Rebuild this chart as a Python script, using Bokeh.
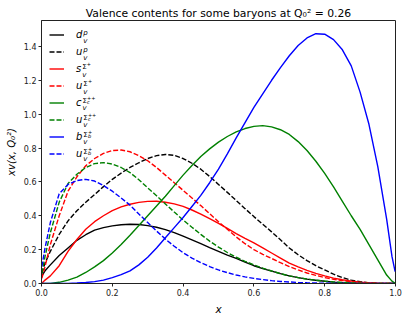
from bokeh.plotting import figure
from bokeh.models import Range1d, Label, Legend, LegendItem, PrintfTickFormatter, FixedTicker, Title
from bokeh.embed import file_html
from bokeh.resources import INLINE

# ---------------- data ----------------
x_vals = [0.001, 0.01, 0.025, 0.05, 0.075, 0.1, 0.125, 0.15, 0.175, 0.2, 0.225, 0.25,
          0.275, 0.3, 0.325, 0.35, 0.375, 0.4, 0.425, 0.45, 0.475, 0.5, 0.525, 0.55,
          0.575, 0.6, 0.625, 0.65, 0.675, 0.7, 0.725, 0.75, 0.775, 0.8, 0.825, 0.85,
          0.875, 0.9, 0.925, 0.95, 0.975, 0.99, 0.999]

d_v_p = [0.045, 0.075, 0.11, 0.165, 0.21, 0.255, 0.288, 0.315, 0.33, 0.34, 0.347, 0.35,
         0.348, 0.342, 0.332, 0.318, 0.3, 0.28, 0.258, 0.235, 0.212, 0.19, 0.168, 0.148,
         0.126, 0.105, 0.088, 0.073, 0.058, 0.045, 0.035, 0.026, 0.019, 0.013, 0.008, 0.005,
         0.003, 0.0015, 0.0007, 0.0002, 0.00003, 0.0, 0.0]
u_v_p = [0.06, 0.12, 0.19, 0.29, 0.37, 0.43, 0.48, 0.525, 0.572, 0.615, 0.652, 0.685,
         0.713, 0.738, 0.755, 0.762, 0.757, 0.738, 0.71, 0.675, 0.632, 0.585, 0.538, 0.49,
         0.442, 0.395, 0.35, 0.305, 0.258, 0.21, 0.17, 0.135, 0.105, 0.08, 0.055, 0.035,
         0.02, 0.01, 0.004, 0.001, 0.0002, 0.0, 0.0]
s_v_sig = [0.002, 0.02, 0.045, 0.105, 0.19, 0.26, 0.32, 0.365, 0.40, 0.43, 0.452, 0.468,
           0.479, 0.485, 0.486, 0.48, 0.47, 0.455, 0.434, 0.41, 0.383, 0.355, 0.325, 0.295,
           0.267, 0.24, 0.21, 0.18, 0.15, 0.12, 0.098, 0.078, 0.06, 0.045, 0.032, 0.022,
           0.014, 0.008, 0.004, 0.0015, 0.0003, 0.0, 0.0]
u_v_sig = [0.03, 0.10, 0.23, 0.40, 0.545, 0.63, 0.695, 0.738, 0.768, 0.785, 0.788, 0.778,
           0.755, 0.725, 0.685, 0.64, 0.595, 0.55, 0.505, 0.46, 0.412, 0.365, 0.32, 0.275,
           0.235, 0.20, 0.172, 0.148, 0.123, 0.10, 0.08, 0.062, 0.048, 0.035, 0.025, 0.017,
           0.011, 0.006, 0.003, 0.001, 0.0002, 0.0, 0.0]
c_v_sigc = [0.0, 0.0, 0.001, 0.007, 0.02, 0.038, 0.065, 0.098, 0.135, 0.18, 0.23, 0.285,
            0.342, 0.40, 0.458, 0.515, 0.578, 0.64, 0.697, 0.75, 0.795, 0.835, 0.868, 0.895,
            0.915, 0.928, 0.932, 0.925, 0.908, 0.88, 0.838, 0.785, 0.722, 0.65, 0.57, 0.485,
            0.40, 0.32, 0.23, 0.14, 0.05, 0.014, 0.001]
u_v_sigc = [0.06, 0.16, 0.30, 0.48, 0.59, 0.645, 0.685, 0.708, 0.714, 0.705, 0.685, 0.655,
            0.613, 0.565, 0.518, 0.47, 0.422, 0.375, 0.332, 0.29, 0.25, 0.215, 0.183, 0.155,
            0.131, 0.11, 0.091, 0.074, 0.058, 0.045, 0.035, 0.026, 0.019, 0.014, 0.009, 0.006,
            0.0035, 0.002, 0.0008, 0.0003, 0.00005, 0.0, 0.0]
b_v_sigb = [0.0, 0.0, 0.0, 0.0005, 0.001, 0.003, 0.006, 0.011, 0.02, 0.035, 0.052, 0.075,
            0.11, 0.155, 0.21, 0.27, 0.33, 0.39, 0.455, 0.52, 0.595, 0.675, 0.765, 0.86,
            0.95, 1.04, 1.12, 1.20, 1.275, 1.345, 1.405, 1.45, 1.475, 1.472, 1.44, 1.38,
            1.285, 1.13, 0.94, 0.69, 0.38, 0.16, 0.07]
u_v_sigb = [0.10, 0.21, 0.36, 0.53, 0.585, 0.608, 0.615, 0.605, 0.578, 0.545, 0.505, 0.463,
            0.41, 0.36, 0.31, 0.262, 0.22, 0.182, 0.15, 0.123, 0.1, 0.08, 0.064, 0.05,
            0.039, 0.03, 0.023, 0.017, 0.012, 0.009, 0.006, 0.004, 0.0028, 0.0018, 0.001, 0.0006,
            0.0003, 0.0001, 0.0, 0.0, 0.0, 0.0, 0.0]

series_values = [d_v_p, u_v_p, s_v_sig, u_v_sig, c_v_sigc, u_v_sigc, b_v_sigb, u_v_sigb]
series_colors = ["black", "black", "red", "red", "green", "green", "blue", "blue"]
series_dashed = [False, True, False, True, False, True, False, True]
# legend label pieces: main letter, superscript, tiny sub of superscript, tiny sup of superscript
legend_main = ["d", "u", "s", "u", "c", "u", "b", "u"]
legend_sup = ["p", "p", "Σ", "Σ", "Σ", "Σ", "Σ", "Σ"]
legend_supsub = ["", "", "", "", "c", "c", "b", "b"]
legend_supsup = ["", "", "+", "+", "++", "++", "+", "+"]

x_ticks = [0.0, 0.2, 0.4, 0.6, 0.8, 1.0]
y_ticks = [0.0, 0.2, 0.4, 0.6, 0.8, 1.0, 1.2, 1.4]
title_text = "Valence contents for some baryons at Q₀² = 0.26"
x_label = "x"
y_label = "xv(x, Q₀²)"

# ---------------- figure ----------------
FONT = "DejaVu Sans"
YMAX = 264.0 / 170.0

p = figure(width=407, height=317, output_backend="svg", toolbar_location=None,
           x_range=Range1d(0, 1), y_range=Range1d(0, YMAX), title=None,
           min_border_left=41, min_border_right=12, min_border_top=20, min_border_bottom=33)
p.add_layout(Title(text=title_text, align="center", text_font=FONT, text_font_size="10.8px",
                   text_font_style="normal", text_color="black", standoff=1), "above")

p.grid.visible = False
p.outline_line_color = "#222222"
p.outline_line_width = 1
p.background_fill_color = "white"
p.border_fill_color = "white"

for ax in (p.xaxis[0], p.yaxis[0]):
    ax.axis_line_color = "#222222"
    ax.major_tick_out = 3
    ax.major_tick_in = 0
    ax.minor_tick_line_color = None
    ax.major_tick_line_color = "#222222"
    ax.major_label_text_font = FONT
    ax.major_label_text_font_size = "8px"
    ax.major_label_text_color = "#222222"
    ax.major_label_standoff = 2
    ax.axis_label_text_font = FONT
    ax.axis_label_text_font_style = "italic"
    ax.axis_label_text_color = "black"
    ax.axis_label_standoff = 4
    ax.formatter = PrintfTickFormatter(format="%.1f")

p.xaxis.axis_label_text_font_size = "10.5px"
p.yaxis.axis_label_text_font_size = "10px"
p.xaxis.ticker = FixedTicker(ticks=x_ticks)
p.yaxis.ticker = FixedTicker(ticks=y_ticks)
p.xaxis.axis_label = x_label
p.yaxis.axis_label = y_label

renderers = []
for vals, col, dashed in zip(series_values, series_colors, series_dashed):
    r = p.line(x_vals, vals, line_color=col, line_width=1.4,
               line_dash="5 2" if dashed else "solid")
    renderers.append(r)

items = [LegendItem(label=lab, renderers=[r]) for lab, r in zip(legend_main, renderers)]
leg = Legend(items=items, location="top_left", margin=8, padding=0, spacing=4,
             glyph_width=15, glyph_height=13, label_height=13, label_standoff=12,
             label_text_font=FONT, label_text_font_size="10px", label_text_font_style="italic",
             label_text_color="black", border_line_color=None, background_fill_alpha=0)
p.add_layout(leg)

# sub/superscripts of the legend entries (positions in frame pixels)
FW, FH = 354.0, 264.0


def fx(px):
    return px / FW


def fy(py):
    return YMAX * (FH - py) / FH


main_w = {"d": 6.4, "u": 6.4, "s": 5.3, "c": 5.6, "b": 6.4}
x0 = 35.0
for i in range(len(legend_main)):
    c = 14.5 + 17 * i
    xs = x0 + main_w[legend_main[i]] + 0.4
    p.add_layout(Label(x=fx(xs), y=fy(c + 5.8), text="v", text_font=FONT, text_font_size="7px",
                       text_font_style="italic", text_baseline="alphabetic", text_color="black"))
    is_greek = legend_sup[i] == "Σ"
    p.add_layout(Label(x=fx(xs), y=fy(c - 1.8), text=legend_sup[i], text_font=FONT,
                       text_font_size="7px", text_font_style="normal" if is_greek else "italic",
                       text_baseline="alphabetic", text_color="black"))
    if legend_supsub[i]:
        p.add_layout(Label(x=fx(xs + 4.6), y=fy(c - 0.6), text=legend_supsub[i], text_font=FONT,
                           text_font_size="5px", text_font_style="italic",
                           text_baseline="alphabetic", text_color="black"))
    if legend_supsup[i]:
        p.add_layout(Label(x=fx(xs + 4.6), y=fy(c - 4.6), text=legend_supsup[i], text_font=FONT,
                           text_font_size="5px", text_font_style="normal",
                           text_baseline="alphabetic", text_color="black"))

open("out.html", "w").write(file_html(p, INLINE))
